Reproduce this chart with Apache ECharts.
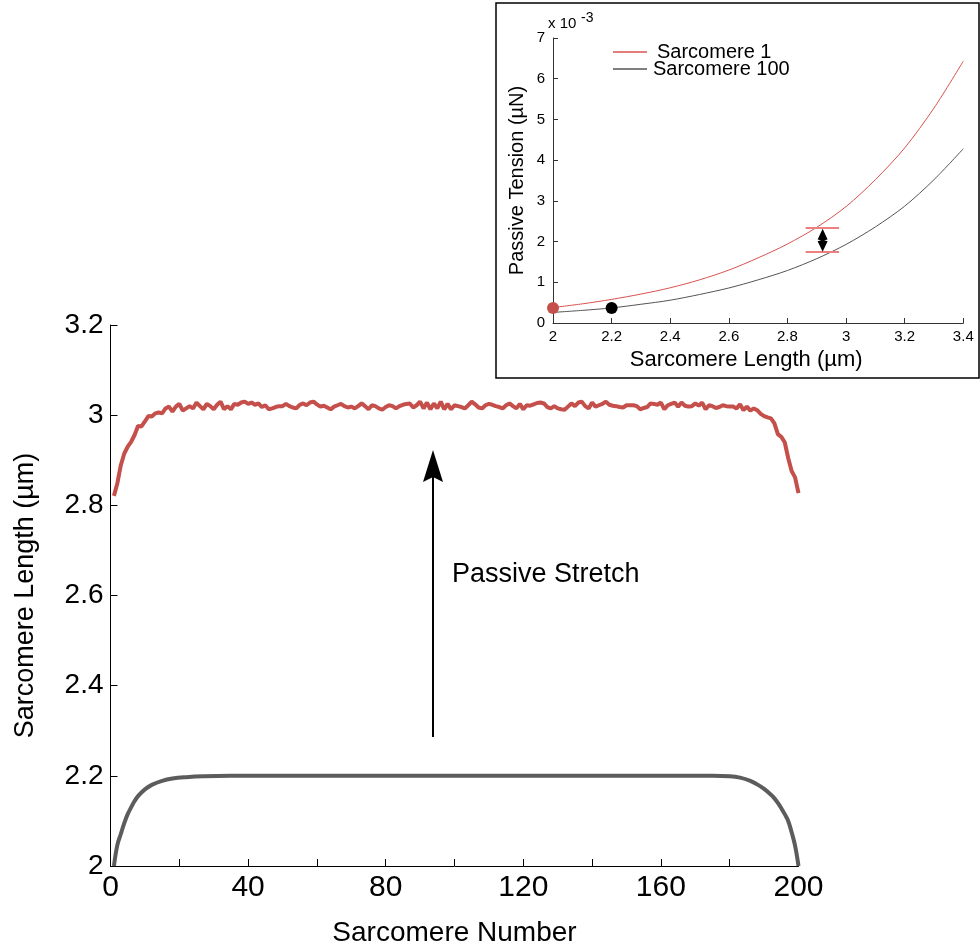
<!DOCTYPE html>
<html><head><meta charset="utf-8">
<script src="https://cdn.jsdelivr.net/npm/echarts@6/dist/echarts.min.js"></script>
<style>html,body{margin:0;padding:0;background:#fff}#c{width:980px;height:949px}</style>
</head><body><div id="c"></div>
<script>
// ---- Main chart data: sarcomere length along the myofibril (sarcomere 1..200)
const redLength = [
2.821,2.849,2.889,2.915,2.930,2.941,2.956,2.976,2.975,2.986,
2.998,2.997,3.004,3.006,3.004,3.015,3.019,3.008,3.019,3.025,
3.010,3.015,3.020,3.015,3.028,3.020,3.013,3.025,3.020,3.013,
3.023,3.030,3.013,3.020,3.013,3.025,3.023,3.028,3.030,3.025,
3.028,3.023,3.026,3.018,3.022,3.013,3.015,3.018,3.020,3.020,
3.025,3.020,3.017,3.015,3.023,3.026,3.022,3.028,3.030,3.024,
3.019,3.021,3.017,3.013,3.019,3.022,3.025,3.020,3.017,3.019,
3.015,3.020,3.026,3.020,3.013,3.022,3.020,3.015,3.012,3.018,
3.022,3.020,3.015,3.020,3.023,3.025,3.026,3.017,3.022,3.030,
3.015,3.028,3.013,3.026,3.015,3.030,3.013,3.025,3.013,3.022,
3.020,3.018,3.015,3.022,3.030,3.024,3.017,3.015,3.022,3.025,
3.023,3.020,3.018,3.015,3.022,3.026,3.020,3.015,3.025,3.013,
3.022,3.021,3.024,3.027,3.028,3.026,3.018,3.015,3.020,3.015,
3.013,3.012,3.019,3.026,3.020,3.028,3.030,3.020,3.015,3.028,
3.019,3.022,3.025,3.030,3.023,3.021,3.020,3.018,3.017,3.022,
3.022,3.022,3.020,3.013,3.016,3.018,3.026,3.025,3.023,3.028,
3.013,3.022,3.025,3.028,3.019,3.028,3.021,3.019,3.020,3.026,
3.021,3.028,3.013,3.022,3.020,3.016,3.018,3.022,3.020,3.019,
3.019,3.015,3.024,3.011,3.019,3.010,3.015,3.011,3.003,2.998,
2.995,2.993,2.982,2.958,2.952,2.940,2.905,2.876,2.862,2.827];
const greyN   = [1,2,3,4,5,6,7,8,10,12,15,18,22,27,35,100,175,180,183,186,188,190,192,193,194,195,196,197,198,199,200];
const greyLen = [2.000,2.047,2.071,2.095,2.115,2.130,2.144,2.155,2.170,2.180,2.189,2.194,2.197,2.199,2.200,2.200,2.200,2.199,2.196,2.189,2.181,2.171,2.158,2.150,2.140,2.128,2.115,2.100,2.075,2.045,2.000];
const mainXTicks = [0,40,80,120,160,200];
const arrowX = 93.75, arrowFrom = 2.286, arrowHeadAt = 2.887;

// ---- Inset data: passive tension (x10^-3 uN) vs sarcomere length (um)
const insetLength = [2.0,2.1,2.2,2.3,2.4,2.5,2.6,2.7,2.8,2.9,3.0,3.1,3.2,3.3,3.4];
const tensionS1   = [0.38,0.47,0.58,0.71,0.865,1.06,1.30,1.60,1.94,2.35,2.86,3.52,4.30,5.28,6.43];
const tensionS100 = [0.26,0.31,0.37,0.46,0.56,0.70,0.86,1.06,1.29,1.58,1.93,2.36,2.87,3.52,4.28];
const dotS1 = [2.0, 0.37];
const dotS100 = [2.2, 0.37];
const errBarL = [2.862, 2.976];
const errBarT = [2.33, 1.74];
const diamondPt = [2.92, 2.03];

const zip = (a, b) => a.map((v, i) => [v, b[i]]);
const redData = redLength.map((v, i) => [i + 1, v]);
const FONT = 'Liberation Sans, Arial, sans-serif';

const chart = echarts.init(document.getElementById('c'), null, {renderer: 'canvas'});
chart.setOption({
  animation: false,
  backgroundColor: '#fff',
  graphic: [
    {type: 'rect', z: -10, shape: {x: 496, y: 3, width: 483, height: 375},
     style: {fill: '#fff', stroke: '#000', lineWidth: 1.5}},
    {type: 'text', left: 548, top: 16, style: {text: 'x 10', fontSize: 15, fontFamily: FONT, fill: '#000'}},
    {type: 'text', left: 581, top: 11, style: {text: '-3', fontSize: 14, fontFamily: FONT, fill: '#000'}},
    {type: 'text', left: 452, top: 561, style: {text: 'Passive Stretch', fontSize: 27, fontFamily: FONT, fill: '#000'}}
  ],
  legend: {
    data: [
      {name: 'Sarcomere 1', textStyle: {padding: [0, 0, 0, 5]}},
      {name: 'Sarcomere 100', textStyle: {padding: [0, 0, 0, 1]}}
    ],
    orient: 'vertical', left: 608, top: 37,
    icon: 'rect', itemWidth: 34, itemHeight: 1.3, itemGap: -3,
    textStyle: {fontSize: 20, color: '#000', fontFamily: FONT, lineHeight: 16}
  },
  grid: [
    {left: 110.5, top: 325, width: 688, height: 541, outerBoundsMode: 'none', containLabel: false},
    {left: 553, top: 38, width: 410.3, height: 285, outerBoundsMode: 'none', containLabel: false}
  ],
  xAxis: [
    {type: 'value', gridIndex: 0, min: 0, max: 200, interval: 20,
     axisLine: {show: true, onZero: false, lineStyle: {color: '#000', width: 1}},
     axisTick: {show: true, inside: true, length: 7, lineStyle: {color: '#000'}},
     axisLabel: {color: '#000', fontSize: 30, fontFamily: FONT, margin: 7,
       formatter: v => mainXTicks.indexOf(v) >= 0 ? String(v) : ''},
     splitLine: {show: false},
     name: 'Sarcomere Number', nameLocation: 'middle', nameGap: 53,
     nameTextStyle: {color: '#000', fontSize: 28, fontFamily: FONT}},
    {type: 'value', gridIndex: 1, min: 2, max: 3.4, interval: 0.2,
     axisLine: {show: true, onZero: false, lineStyle: {color: '#333', width: 1}},
     axisTick: {show: true, inside: true, length: 5, lineStyle: {color: '#333'}},
     axisLabel: {color: '#000', fontSize: 15, fontFamily: FONT, margin: 6},
     splitLine: {show: false},
     name: 'Sarcomere Length (\u00b5m)', nameLocation: 'middle', nameGap: 26,
     nameTextStyle: {color: '#000', fontSize: 22, fontFamily: FONT, padding: [0, 24, 0, 0]}},
  ],
  yAxis: [
    {type: 'value', gridIndex: 0, min: 2, max: 3.2, interval: 0.2,
     axisLine: {show: true, onZero: false, lineStyle: {color: '#000', width: 1}},
     axisTick: {show: true, inside: true, length: 7, lineStyle: {color: '#000'}},
     axisLabel: {color: '#000', fontSize: 28, fontFamily: FONT, margin: 7},
     splitLine: {show: false},
     name: 'Sarcomere Length (\u00b5m)', nameLocation: 'middle', nameGap: 71,
     nameTextStyle: {color: '#000', fontSize: 27, fontFamily: FONT}},
    {type: 'value', gridIndex: 1, min: 0, max: 7, interval: 1,
     axisLine: {show: true, onZero: false, lineStyle: {color: '#333', width: 1}},
     axisTick: {show: true, inside: true, length: 5, lineStyle: {color: '#333'}},
     axisLabel: {color: '#000', fontSize: 15, fontFamily: FONT, margin: 8},
     splitLine: {show: false},
     name: 'Passive Tension (\u00b5N)', nameLocation: 'middle', nameGap: 26,
     nameTextStyle: {color: '#000', fontSize: 20, fontFamily: FONT}}
  ],
  series: [
    {name: 'redMain', type: 'line', xAxisIndex: 0, yAxisIndex: 0, data: redData, symbol: 'none',
     lineStyle: {color: '#c44f4b', width: 4}, z: 3},
    {name: 'greyMain', type: 'line', xAxisIndex: 0, yAxisIndex: 0, data: zip(greyN, greyLen), symbol: 'none',
     smooth: 0.4, lineStyle: {color: '#5c5c5c', width: 4}, z: 3},
    {name: 'arrowShaft', type: 'line', xAxisIndex: 0, yAxisIndex: 0,
     data: [[arrowX, arrowFrom], [arrowX, arrowHeadAt]], symbol: 'none',
     lineStyle: {color: '#000', width: 2}},
    {name: 'arrowHead', type: 'scatter', xAxisIndex: 0, yAxisIndex: 0,
     data: [[arrowX, arrowHeadAt]], symbol: 'path://M10,0 L20,32 L10,27 L0,32 Z', symbolSize: [20, 32],
     itemStyle: {color: '#000', opacity: 1}},
    {name: 'Sarcomere 1', type: 'line', xAxisIndex: 1, yAxisIndex: 1, data: zip(insetLength, tensionS1),
     symbol: 'none', smooth: 0.3, lineStyle: {color: '#d9534f', width: 1}, itemStyle: {color: '#d9534f'}},
    {name: 'Sarcomere 100', type: 'line', xAxisIndex: 1, yAxisIndex: 1, data: zip(insetLength, tensionS100),
     symbol: 'none', smooth: 0.3, lineStyle: {color: '#555', width: 1}, itemStyle: {color: '#555'}},
    {name: 'dotS1', type: 'scatter', xAxisIndex: 1, yAxisIndex: 1, data: [dotS1], symbolSize: 12,
     itemStyle: {color: '#c44f4b', opacity: 1}, z: 5},
    {name: 'dotS100', type: 'scatter', xAxisIndex: 1, yAxisIndex: 1, data: [dotS100], symbolSize: 12,
     itemStyle: {color: '#000', opacity: 1}, z: 5},
    {name: 'diff', type: 'scatter', xAxisIndex: 1, yAxisIndex: 1, data: [diamondPt],
     symbol: 'path://M5,0 L10,11 L6.5,12 L10,13 L5,24 L0,13 L3.5,12 L0,11 Z', symbolSize: [10, 23],
     itemStyle: {color: '#000', opacity: 1}, z: 5,
     markLine: {silent: true, symbol: 'none', label: {show: false},
       lineStyle: {color: '#ee7f7f', width: 2, type: 'solid'},
       data: errBarT.map(t => [{coord: [errBarL[0], t]}, {coord: [errBarL[1], t]}])}}
  ]
});
</script>
</body></html>
